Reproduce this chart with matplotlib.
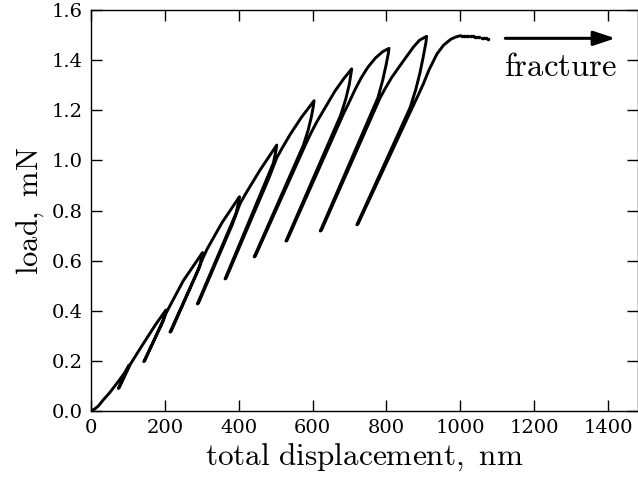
import matplotlib
matplotlib.use('Agg')
import matplotlib.pyplot as plt

plt.rcParams['mathtext.fontset'] = 'cm'
plt.rcParams['font.family'] = 'DejaVu Serif'

# load-displacement path with partial unloading cycles
disp_nm = [
    # first loading
    0, 10, 20, 33, 50, 74, 90, 103,
    # unload / reload 1
    101, 74, 76, 98, 106, 125, 150, 175, 203,
    # unload / reload 2
    201, 196, 143, 145, 190, 204, 212, 250, 302,
    # unload / reload 3
    300, 294, 214, 217, 285, 303, 314, 355, 402,
    # unload / reload 4
    400, 393, 288, 291, 383, 403, 416, 458, 503,
    # unload / reload 5
    501, 494, 363, 366, 482, 503, 518, 540, 570, 604,
    # unload / reload 6
    602, 597, 588, 575, 442, 445, 580, 596, 612, 626, 642, 660, 684, 706,
    # unload / reload 7
    704, 699, 690, 676, 528, 531, 682, 700, 716, 732, 750, 770, 790, 807,
    # unload / reload 8
    805, 799, 790, 777, 621, 624, 783, 798, 814, 833, 851, 873, 890, 909,
    # unload / reload 9
    907, 900, 891, 879, 864, 720, 723, 870, 886, 900, 915, 937, 955, 975, 991, 1000,
]
load_mN = [
    0.0, 0.008, 0.02, 0.044, 0.072, 0.118, 0.15, 0.183,
    0.175, 0.090, 0.092, 0.16, 0.185, 0.23, 0.288, 0.345, 0.403,
    0.39, 0.36, 0.197, 0.199, 0.345, 0.392, 0.415, 0.52, 0.632,
    0.615, 0.575, 0.315, 0.318, 0.545, 0.61, 0.645, 0.752, 0.855,
    0.835, 0.79, 0.427, 0.43, 0.745, 0.825, 0.86, 0.962, 1.061,
    1.04, 0.99, 0.527, 0.53, 0.93, 1.01, 1.05, 1.105, 1.172, 1.238,
    1.215, 1.175, 1.12, 1.06, 0.615, 0.618, 1.06, 1.11, 1.155, 1.19, 1.23, 1.275, 1.325, 1.365,
    1.345, 1.30, 1.245, 1.18, 0.678, 0.681, 1.18, 1.235, 1.285, 1.33, 1.372, 1.408, 1.434, 1.447,
    1.425, 1.38, 1.32, 1.25, 0.718, 0.721, 1.25, 1.29, 1.33, 1.37, 1.407, 1.452, 1.48, 1.495,
    1.47, 1.415, 1.35, 1.28, 1.21, 0.743, 0.746, 1.21, 1.26, 1.305, 1.36, 1.425, 1.46, 1.484, 1.494, 1.497,
]

# sparse points at the very end before fracture
tail_nm = [1004, 1010, 1016, 1022, 1028, 1034, 1040, 1046, 1052, 1058, 1064, 1070, 1076]
tail_mN = [1.497, 1.497, 1.497, 1.496, 1.496, 1.495, 1.494, 1.493, 1.492, 1.490, 1.489, 1.487, 1.485]

arrow_x = [1122, 1420]
arrow_y = 1.487

x_ticks = [0, 200, 400, 600, 800, 1000, 1200, 1400]
y_ticks = [0.0, 0.2, 0.4, 0.6, 0.8, 1.0, 1.2, 1.4, 1.6]

fig = plt.figure(figsize=(6.38, 4.78), dpi=100)
ax = fig.add_axes([91 / 638, 67 / 478, 546.5 / 638, 401 / 478])

ax.plot(disp_nm, load_mN, color='k', lw=2.1, solid_joinstyle='round')
ax.plot(tail_nm, tail_mN, ls='none', marker='.', ms=3, color='k')

ax.annotate('', xy=(arrow_x[1], arrow_y), xytext=(arrow_x[0], arrow_y),
            arrowprops=dict(arrowstyle='-|>,head_length=0.6,head_width=0.2',
                            lw=2.2, color='k', mutation_scale=22,
                            shrinkA=0, shrinkB=0))
ax.text(1271, 1.374, r'$\mathrm{fracture}$', fontsize=23.5, ha='center', va='center')

ax.set_xlim(0, 1480)
ax.set_ylim(0, 1.6)
ax.set_xticks(x_ticks)
ax.set_yticks(y_ticks)
ax.set_yticklabels(['%.1f' % v for v in y_ticks])
ax.tick_params(direction='in', length=8, width=1, top=True, right=True,
               labelsize=14, pad=6)
for s in ax.spines.values():
    s.set_linewidth(1)

ax.set_xlabel(r'$\mathrm{total\ displacement,\ nm}$', fontsize=22.5, labelpad=3)
ax.set_ylabel(r'$\mathrm{load,\ mN}$', fontsize=22, labelpad=4)

fig.savefig('out.png', dpi=100)
